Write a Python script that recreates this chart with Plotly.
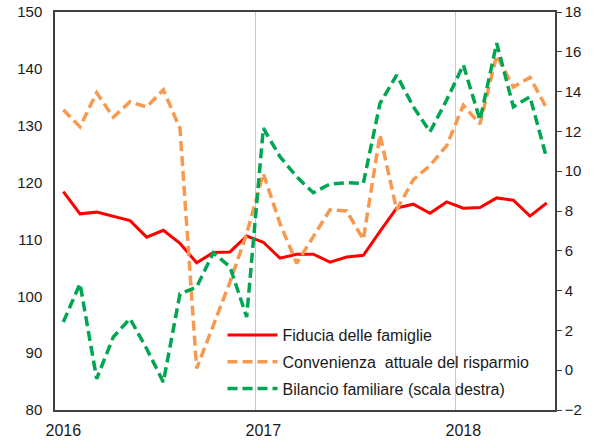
import plotly.graph_objects as go

months = list(range(30))  # Jan 2016 .. Jun 2018
year_ticks = [0, 12, 24]
year_labels = ["2016", "2017", "2018"]
year_bounds = [11.5, 23.5]

fiducia = [118.4, 114.5, 114.8, 114.0, 113.3, 110.4, 111.6, 109.3, 105.9, 107.7,
           107.8, 110.6, 109.5, 106.7, 107.4, 107.4, 106.0, 106.9, 107.2, 111.4,
           115.5, 116.2, 114.6, 116.6, 115.5, 115.6, 117.3, 116.9, 114.1, 116.4]

convenienza = [132.8, 129.8, 135.8, 131.5, 134.2, 133.3, 136.3, 129.5, 87.3, 94.9,
               102.5, 111.0, 121.6, 112.8, 105.8, 110.5, 115.2, 115.0, 110.0, 128.4,
               115.2, 120.5, 123.0, 126.5, 133.6, 130.3, 142.4, 136.8, 138.5, 133.1]

bilancio = [2.42, 4.35, -0.43, 1.67, 2.59, 1.08, -0.6, 3.84, 4.18, 5.9,
            5.19, 2.67, 12.16, 10.73, 9.72, 8.92, 9.36, 9.42, 9.39, 13.41,
            14.83, 13.24, 11.98, 13.58, 15.34, 12.57, 16.43, 13.24, 13.74, 10.65]

names = ["Fiducia delle famiglie",
         "Convenienza\u00a0 attuale del risparmio",
         "Bilancio familiare (scala destra)"]

fig = go.Figure()
fig.add_trace(go.Scatter(x=months, y=fiducia, name=names[0], mode="lines", legendgroup="a",
                         line=dict(color="#ff0000", width=3)))
fig.add_trace(go.Scatter(x=months, y=convenienza, name=names[1], mode="lines", legendgroup="b",
                         line=dict(color="#f7994f", width=3.5, dash="10px,5px")))
fig.add_trace(go.Scatter(x=months, y=bilancio, name=names[2], mode="lines", yaxis="y2",
                         legendgroup="c",
                         line=dict(color="#00a651", width=3.5, dash="10px,5px")))

axcol = "#404040"
fig.update_layout(
    width=600, height=444,
    margin=dict(l=55, r=45, t=12, b=34),
    paper_bgcolor="white", plot_bgcolor="white",
    font=dict(family="Liberation Sans, Arial, sans-serif", size=15, color="#1a1a1a"),
    showlegend=True,
    legend=dict(x=0.335, y=0.01, xanchor="left", yanchor="bottom",
                bgcolor="rgba(255,255,255,0)", font=dict(size=16),
                itemwidth=50, tracegroupgap=3, traceorder="grouped"),
    xaxis=dict(range=[-0.5, 29.5], tickmode="array", tickvals=year_ticks,
               ticktext=year_labels, showgrid=False, zeroline=False, automargin=False,
               tickfont=dict(size=16), ticklabelstandoff=5,
               showline=True, linecolor=axcol, linewidth=1.5, mirror=True, ticks="",
               minor=dict(tickmode="array", tickvals=year_bounds, showgrid=True,
                          gridcolor="#c8c8c8", gridwidth=1, ticks="")),
    yaxis=dict(range=[80, 150], dtick=10, showgrid=False, zeroline=False,
               showline=True, linecolor=axcol, linewidth=1.5, ticks="", automargin=False,
               ticklabelstandoff=8),
    yaxis2=dict(range=[-2, 18], dtick=2, overlaying="y", side="right", automargin=False,
                showgrid=False, zeroline=False, showline=True, linecolor=axcol,
                linewidth=1.5, ticks="outside", ticklen=5, tickcolor=axcol),
)

fig.write_html("out.html", config={"displayModeBar": False},
               post_script="document.body.style.margin='0';")
